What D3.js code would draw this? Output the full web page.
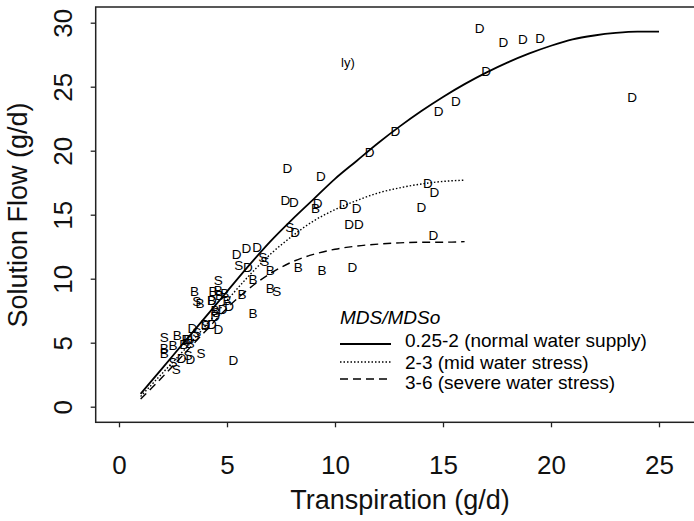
<!DOCTYPE html>
<html>
<head>
<meta charset="utf-8">
<script src="https://cdnjs.cloudflare.com/ajax/libs/d3/7.8.5/d3.min.js"></script>
<style>
  body { margin: 0; background: #fff; }
  svg { display: block; font-family: "Liberation Sans", Arial, sans-serif; }
  .axis path.domain { display: none; }
  .axis line { stroke: #222; stroke-width: 1.3; }
  .axis text { font-size: 26px; fill: #111; }
</style>
</head>
<body>
<div id="chart"></div>
<script>
// tick labels
const xTicks = [0, 5, 10, 15, 20, 25];
const yTicks = [0, 5, 10, 15, 20, 25, 30];

// fitted curves as [transpiration, solution flow]
const normalCurve = [
  [1, 1.0], [2, 3.0], [3, 5.0], [4, 7.0], [5, 9.0], [6, 11.0], [7, 12.9],
  [8, 14.6], [9, 16.2], [10, 17.8], [11, 19.2], [12, 20.6], [13, 21.9],
  [14, 23.1], [15, 24.2], [16, 25.2], [17, 26.1], [18, 26.9], [19, 27.6],
  [20, 28.2], [21, 28.7], [22, 29.0], [23, 29.2], [24, 29.3], [25, 29.3]
];
const midCurve = [
  [1, 0.8], [2, 2.6], [3, 4.4], [4, 6.3], [5, 8.3], [6, 10.2], [7, 11.9],
  [8, 13.3], [9, 14.5], [10, 15.4], [11, 16.1], [12, 16.7], [13, 17.1],
  [14, 17.4], [15, 17.6], [16, 17.7]
];
const severeCurve = [
  [1, 0.6], [2, 2.3], [3, 4.1], [4, 5.9], [5, 7.7], [6, 9.2], [7, 10.4],
  [8, 11.3], [9, 11.9], [10, 12.3], [11, 12.55], [12, 12.7], [13, 12.8],
  [14, 12.85], [15, 12.85], [16, 12.9]
];

// observations, plotted as letters
const pointsD = [
  [16.7, 29.6], [17.8, 28.5], [18.7, 28.7], [19.5, 28.8], [17.0, 26.2],
  [15.6, 23.9], [14.8, 23.1], [23.75, 24.2], [12.8, 21.5], [11.6, 19.9],
  [9.35, 18.0], [7.8, 18.6], [7.7, 16.1], [8.1, 16.0], [9.2, 15.9],
  [10.4, 15.8], [11.0, 15.5], [14.0, 15.6], [10.65, 14.3], [11.1, 14.3],
  [14.3, 17.5], [14.6, 16.8], [14.55, 13.4], [10.8, 10.9], [8.15, 13.65],
  [5.45, 11.9], [5.9, 12.4], [6.4, 12.5], [5.97, 10.9], [5.3, 3.6],
  [5.1, 7.85], [4.45, 7.05], [4.3, 6.45], [4.6, 6.05], [3.4, 6.1],
  [4.0, 6.45], [3.3, 3.7], [2.9, 3.8], [3.2, 5.3], [3.5, 5.5],
  [4.3, 8.3], [4.8, 7.6]
];
const pointsB = [
  [9.1, 15.5], [9.4, 10.7], [7.0, 10.7], [8.3, 10.9], [6.2, 10.0],
  [7.0, 9.3], [5.7, 8.8], [6.2, 7.3], [3.5, 9.0], [3.75, 8.1],
  [4.35, 9.0], [4.6, 9.1], [4.9, 8.9], [4.3, 8.3], [5.0, 8.3],
  [4.45, 7.55], [2.7, 5.6], [3.1, 5.3], [3.3, 5.0], [2.1, 4.6],
  [2.1, 4.2], [2.5, 4.8], [3.0, 4.9], [4.65, 8.7]
];
const pointsS = [
  [7.9, 14.0], [5.55, 11.05], [6.65, 11.7], [6.75, 11.4], [7.3, 9.0],
  [3.8, 4.2], [4.6, 9.9], [3.6, 8.25], [2.1, 5.4], [2.65, 2.95],
  [4.0, 6.4], [3.6, 5.8], [2.5, 3.5], [4.5, 7.4], [3.2, 4.0]
];

const legendTitle = 'MDS/MDSo';
const legendLabels = [
  '0.25-2 (normal water supply)',
  '2-3 (mid water stress)',
  '3-6 (severe water stress)'
];

document.addEventListener('DOMContentLoaded', () => {
  const width = 694;
  const height = 521;
  const frame = { left: 95.7, top: 7, bottom: 422.3 };

  const x = d3.scaleLinear().domain([0, 25]).range([119, 659]);
  const y = d3.scaleLinear().domain([0, 30]).range([406.7, 22.7]);

  const svg = d3.select('#chart')
    .append('svg')
    .attr('width', width)
    .attr('height', height);

  // plot box, its right side falls outside the picture
  svg.append('rect')
    .attr('x', frame.left)
    .attr('y', frame.top)
    .attr('width', width + 20 - frame.left)
    .attr('height', frame.bottom - frame.top)
    .attr('fill', 'none')
    .attr('stroke', '#222')
    .attr('stroke-width', 1.5);

  svg.append('g')
    .attr('class', 'axis')
    .attr('transform', `translate(0,${frame.bottom})`)
    .call(d3.axisBottom(x).tickValues(xTicks).tickSize(5).tickPadding(28));

  const yAxis = svg.append('g')
    .attr('class', 'axis')
    .attr('transform', `translate(${frame.left},0)`)
    .call(d3.axisLeft(y).tickValues(yTicks).tickSize(5));

  yAxis.selectAll('text')
    .attr('x', 0)
    .attr('dy', 0)
    .attr('text-anchor', 'middle')
    .attr('transform', 'translate(-24,0) rotate(-90)');

  svg.append('text')
    .attr('x', 400)
    .attr('y', 509)
    .attr('text-anchor', 'middle')
    .attr('font-size', 27)
    .attr('fill', '#111')
    .text('Transpiration (g/d)');

  svg.append('text')
    .attr('transform', 'translate(27,215) rotate(-90)')
    .attr('text-anchor', 'middle')
    .attr('font-size', 27)
    .attr('fill', '#111')
    .text('Solution Flow (g/d)');

  const line = d3.line()
    .x(d => x(d[0]))
    .y(d => y(d[1]))
    .curve(d3.curveMonotoneX);

  const styles = [
    { data: normalCurve, width: 1.8, dash: null },
    { data: midCurve, width: 1.4, dash: '1.5,2' },
    { data: severeCurve, width: 1.4, dash: '8,5' }
  ];

  svg.selectAll('.curve')
    .data(styles)
    .enter()
    .append('path')
    .attr('class', 'curve')
    .attr('d', d => line(d.data))
    .attr('fill', 'none')
    .attr('stroke', '#000')
    .attr('stroke-width', d => d.width)
    .attr('stroke-dasharray', d => d.dash);

  const groups = [
    { letter: 'D', data: pointsD },
    { letter: 'B', data: pointsB },
    { letter: 'S', data: pointsS }
  ];

  groups.forEach((g) => {
    svg.selectAll(`.pt${g.letter}`)
      .data(g.data)
      .enter()
      .append('text')
      .attr('class', `pt${g.letter}`)
      .attr('x', d => x(d[0]))
      .attr('y', d => y(d[1]))
      .attr('dy', '0.36em')
      .attr('text-anchor', 'middle')
      .attr('font-size', 13.5)
      .attr('fill', '#000')
      .text(g.letter);
  });

  // stray label fragment left in the original figure
  svg.append('text')
    .attr('x', x(10.6))
    .attr('y', y(26.9))
    .attr('dy', '0.36em')
    .attr('text-anchor', 'middle')
    .attr('font-size', 13)
    .text('ly)');

  // legend
  const legend = svg.append('g');

  legend.append('text')
    .attr('x', 340)
    .attr('y', 324)
    .attr('font-size', 19)
    .attr('font-style', 'italic')
    .text(legendTitle);

  const rowY = [344, 362, 379];
  const textY = [347, 369, 389];

  legend.selectAll('.key')
    .data(styles)
    .enter()
    .append('line')
    .attr('class', 'key')
    .attr('x1', 340)
    .attr('x2', 391)
    .attr('y1', (d, i) => rowY[i])
    .attr('y2', (d, i) => rowY[i])
    .attr('stroke', '#000')
    .attr('stroke-width', d => d.width + 0.3)
    .attr('stroke-dasharray', d => d.dash);

  legend.selectAll('.keyLabel')
    .data(legendLabels)
    .enter()
    .append('text')
    .attr('class', 'keyLabel')
    .attr('x', 405)
    .attr('y', (d, i) => textY[i])
    .attr('font-size', 19)
    .text(d => d);
});
</script>
</body>
</html>
